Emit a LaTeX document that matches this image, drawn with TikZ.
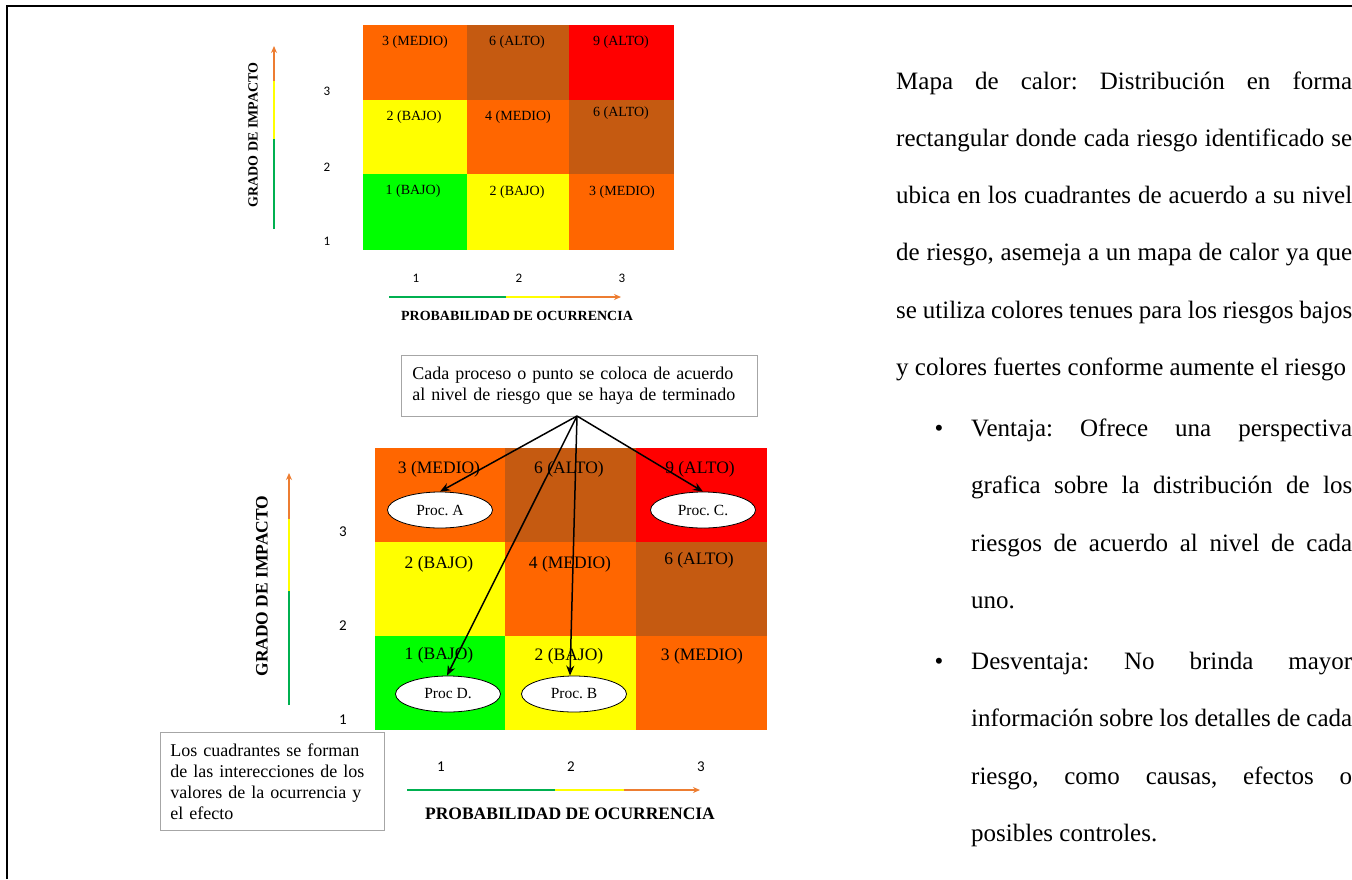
\documentclass[tikz,border=0pt]{standalone}
\usepackage{fontspec}
\setmainfont{Liberation Serif}
\newfontfamily\numfont{Carlito}
\usetikzlibrary{arrows.meta,shapes.geometric}
\frenchspacing
\definecolor{cOrange}{HTML}{FF6600}
\definecolor{cBrown}{HTML}{C55A11}
\definecolor{cRed}{HTML}{FF0000}
\definecolor{cYellow}{HTML}{FFFF00}
\definecolor{cGreen}{HTML}{00FF00}
\definecolor{axGreen}{HTML}{00B050}
\definecolor{axYellow}{HTML}{FFFF00}
\definecolor{axOrange}{HTML}{ED7D31}
\definecolor{boxGray}{HTML}{A6A6A6}
\tikzset{
  cellS/.style={font=\fontsize{14}{16}\selectfont, inner sep=0pt},
  cellL/.style={font=\fontsize{17.5}{20}\selectfont, inner sep=0pt},
  axlabS/.style={font=\bfseries\fontsize{14}{16}\selectfont, inner sep=0pt},
  axlabL/.style={font=\bfseries\fontsize{17.5}{20}\selectfont, inner sep=0pt},
  numS/.style={font=\numfont\fontsize{13}{15}\selectfont, inner sep=0pt},
  numL/.style={font=\numfont\fontsize{15}{17}\selectfont, inner sep=0pt},
  proc/.style={ellipse, draw=black, line width=0.8pt, fill=white, minimum width=105pt, minimum height=36pt, inner sep=0pt, font=\fontsize{15.5}{18}\selectfont},
  callout/.style={draw=boxGray, line width=0.8pt, fill=white, align=left, font=\fontsize{18}{21}\selectfont},
  body/.style={font=\fontsize{25}{30}\selectfont, inner sep=0pt, anchor=base west},
  bul/.style={font=\fontsize{25}{30}\selectfont, inner sep=0pt, anchor=base},
  ptr/.style={line width=1.5pt, -{Stealth[length=10pt,width=8pt]}},
  axline/.style={line width=1.5pt},
  axtip/.style={line width=1.5pt, draw=axOrange, -{Stealth[length=7pt,width=6pt]}}
}
\begin{document}
\frenchspacing
\begin{tikzpicture}[x=1pt,y=-1pt]
\useasboundingbox (0,0) rectangle (1352,879);
\fill[white] (0,0) rectangle (1352,879);
\draw[line width=2pt] (7,879) -- (7,6) -- (1352,6);

% ---------- top heat map ----------
\fill[cOrange] (363,25) rectangle (467,100);
\fill[cBrown]  (467,25) rectangle (569,100);
\fill[cRed]    (569,25) rectangle (674,100);
\fill[cYellow] (363,100) rectangle (467,174);
\fill[cOrange] (467,100) rectangle (569,174);
\fill[cBrown]  (569,100) rectangle (674,174);
\fill[cGreen]  (363,174) rectangle (467,250);
\fill[cYellow] (467,174) rectangle (569,250);
\fill[cOrange] (569,174) rectangle (674,250);
\node[cellS] (t11) at (415,42) {3 (MEDIO)};
\node[cellS] (t12) at (517,42) {6 (ALTO)};
\node[cellS] (t13) at (621,42) {9 (ALTO)};
\node[cellS] (t21) at (414,117) {2 (BAJO)};
\node[cellS] (t22) at (518,117) {4 (MEDIO)};
\node[cellS] (t23) at (621,113) {6 (ALTO)};
\node[cellS] (t31) at (413,191) {1 (BAJO)};
\node[cellS] (t32) at (517,192) {2 (BAJO)};
\node[cellS] (t33) at (622,192) {3 (MEDIO)};

\coordinate (ty0) at (274,229);
\coordinate (ty1) at (274,139);
\coordinate (ty2) at (274,81);
\coordinate (ty3) at (274,46);
\draw[axline,axGreen] (ty0) -- (ty1);
\draw[axline,axYellow] (ty1) -- (ty2);
\draw[axtip] (ty2) -- (ty3);
\node[axlabS, rotate=90] (tylab) at (253,135) {GRADO DE IMPACTO};
\node[numS] (tn3) at (327,91) {3};
\node[numS] (tn2) at (327,167) {2};
\node[numS] (tn1) at (327,241) {1};

\coordinate (tx0) at (389,297);
\coordinate (tx1) at (506,297);
\coordinate (tx2) at (560,297);
\coordinate (tx3) at (621,297);
\draw[axline,axGreen] (tx0) -- (tx1);
\draw[axline,axYellow] (tx1) -- (tx2);
\draw[axtip] (tx2) -- (tx3);
\node[numS] (tm1) at (416,278) {1};
\node[numS] (tm2) at (519,278) {2};
\node[numS] (tm3) at (622,278) {3};
\node[axlabS] (txlab) at (517,316) {PROBABILIDAD DE OCURRENCIA};

% ---------- bottom heat map ----------
\fill[cOrange] (375,448) rectangle (505,542);
\fill[cBrown]  (505,448) rectangle (636,542);
\fill[cRed]    (636,448) rectangle (767,542);
\fill[cYellow] (375,542) rectangle (505,636);
\fill[cOrange] (505,542) rectangle (636,636);
\fill[cBrown]  (636,542) rectangle (767,636);
\fill[cGreen]  (375,636) rectangle (505,730);
\fill[cYellow] (505,636) rectangle (636,730);
\fill[cOrange] (636,636) rectangle (767,730);
\node[cellL] (b11) at (439,469) {3 (MEDIO)};
\node[cellL] (b12) at (569,469) {6 (ALTO)};
\node[cellL] (b13) at (700,469) {9 (ALTO)};
\node[cellL] (b21) at (439,564) {2 (BAJO)};
\node[cellL] (b22) at (570,564) {4 (MEDIO)};
\node[cellL] (b23) at (699,560) {6 (ALTO)};
\node[cellL] (b31) at (439,655) {1 (BAJO)};
\node[cellL] (b32) at (569,656) {2 (BAJO)};
\node[cellL] (b33) at (702,656) {3 (MEDIO)};

\node[proc] (pA) at (440,510) {Proc. A};
\node[proc] (pC) at (703,510) {Proc. C.};
\node[proc] (pD) at (448,694) {Proc D.};
\node[proc] (pB) at (574,694) {Proc. B};

\coordinate (by0) at (289,705);
\coordinate (by1) at (289,591);
\coordinate (by2) at (289,519);
\coordinate (by3) at (289,473);
\draw[axline,axGreen] (by0) -- (by1);
\draw[axline,axYellow] (by1) -- (by2);
\draw[axtip] (by2) -- (by3);
\node[axlabL, rotate=90] (bylab) at (262,586) {GRADO DE IMPACTO};
\node[numL] (bn3) at (343,532) {3};
\node[numL] (bn2) at (343,626) {2};
\node[numL] (bn1) at (343,720) {1};

\coordinate (bx0) at (407,790);
\coordinate (bx1) at (555,790);
\coordinate (bx2) at (624,790);
\coordinate (bx3) at (700,790);
\draw[axline,axGreen] (bx0) -- (bx1);
\draw[axline,axYellow] (bx1) -- (bx2);
\draw[axtip] (bx2) -- (bx3);
\node[numL] (bm1) at (441,767) {1};
\node[numL] (bm2) at (571,767) {2};
\node[numL] (bm3) at (701,767) {3};
\node[axlabL] (bxlab) at (570,814) {PROBABILIDAD DE OCURRENCIA};

% callouts
\node[callout, anchor=north west, text width=334pt, inner xsep=11pt, inner ysep=0pt, minimum height=61pt] (cb1) at (401,355)
  {\makebox[318pt][s]{Cada proceso o punto se coloca de acuerdo}\\\makebox[318pt][s]{al nivel de riesgo que se haya de terminado}};
\node[callout, anchor=north west, text width=204pt, inner xsep=10pt, inner ysep=0pt, minimum height=98pt] (cb2) at (160,732)
  {\makebox[192pt][s]{Los cuadrantes se forman}\\\makebox[192pt][s]{de las interecciones de los}\\\makebox[192pt][s]{valores de la ocurrencia y}\\el efecto};

\coordinate (apex) at (577,416);
\draw[ptr] (apex) -- (pA.north);
\draw[ptr] (apex) -- (pC.north);
\draw[ptr] (apex) -- ([xshift=-1pt]pD.north);
\draw[ptr] (apex) -- ([xshift=-4pt]pB.north);

% ---------- right text ----------
\node[body] (r1) at (896,89) {\makebox[456pt][s]{Mapa de calor: Distribución en forma}};
\node[body] (r2) at (896,146) {\makebox[456pt][s]{rectangular donde cada riesgo identificado se}};
\node[body] (r3) at (896,203) {\makebox[456pt][s]{ubica en los cuadrantes de acuerdo a su nivel}};
\node[body] (r4) at (896,260) {\makebox[456pt][s]{de riesgo, asemeja a un mapa de calor ya que}};
\node[body] (r5) at (896,318) {\makebox[456pt][s]{se utiliza colores tenues para los riesgos bajos}};
\node[body] (r6) at (896,375) {y colores fuertes conforme aumente el riesgo};

\node[bul] (d1) at (939,436) {\textbullet};
\node[body] (v1) at (971,436) {\makebox[381pt][s]{Ventaja: Ofrece una perspectiva}};
\node[body] (v2) at (971,493) {\makebox[381pt][s]{grafica sobre la distribución de los}};
\node[body] (v3) at (971,551) {\makebox[381pt][s]{riesgos de acuerdo al nivel de cada}};
\node[body] (v4) at (971,608) {uno.};
\node[bul] (d2) at (939,669) {\textbullet};
\node[body] (w1) at (971,669) {\makebox[381pt][s]{Desventaja: No brinda mayor}};
\node[body] (w2) at (971,726) {\makebox[381pt][s]{información sobre los detalles de cada}};
\node[body] (w3) at (971,784) {\makebox[381pt][s]{riesgo, como causas, efectos o}};
\node[body] (w4) at (971,841) {posibles controles.};
\end{tikzpicture}
\end{document}
